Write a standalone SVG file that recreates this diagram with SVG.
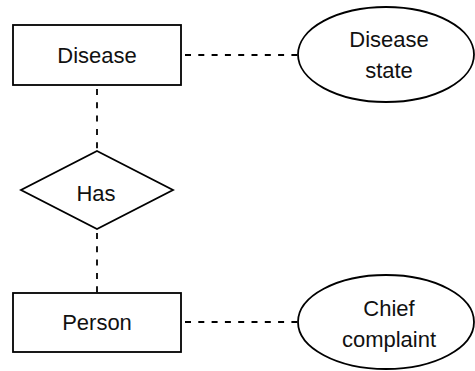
<svg xmlns="http://www.w3.org/2000/svg" width="475" height="371" viewBox="0 0 475 371">
<style>
.shape{fill:#fff;stroke:#000;stroke-width:1.8}
.conn{fill:none;stroke:#000;stroke-width:1.8;stroke-dasharray:6 7.3;stroke-dashoffset:-4}
text{font-family:"Liberation Sans",Arial,sans-serif;font-size:22px;fill:#111;text-anchor:middle}
</style>
<rect width="475" height="371" fill="#fff"/>
<g id="connectors">
<line class="conn" x1="181" y1="55" x2="298" y2="55"/>
<line class="conn" x1="97" y1="85" x2="97" y2="151"/>
<line class="conn" x1="97" y1="229" x2="97" y2="293"/>
<line class="conn" x1="181" y1="322" x2="298" y2="322"/>
</g>
<g id="disease">
<rect class="shape" x="13" y="25" width="168" height="60"/>
<text x="97" y="63">Disease</text>
</g>
<g id="disease-state">
<ellipse class="shape" cx="386" cy="54.5" rx="88" ry="47.5"/>
<text x="389" y="47">Disease</text>
<text x="389" y="78">state</text>
</g>
<g id="has">
<polygon class="shape" points="97,151 173,190 97,229 21,190"/>
<text x="96" y="201">Has</text>
</g>
<g id="person">
<rect class="shape" x="13" y="293" width="168" height="59"/>
<text x="97" y="330">Person</text>
</g>
<g id="chief-complaint">
<ellipse class="shape" cx="386" cy="322" rx="88" ry="47"/>
<text x="389" y="316">Chief</text>
<text x="389" y="347">complaint</text>
</g>
</svg>
